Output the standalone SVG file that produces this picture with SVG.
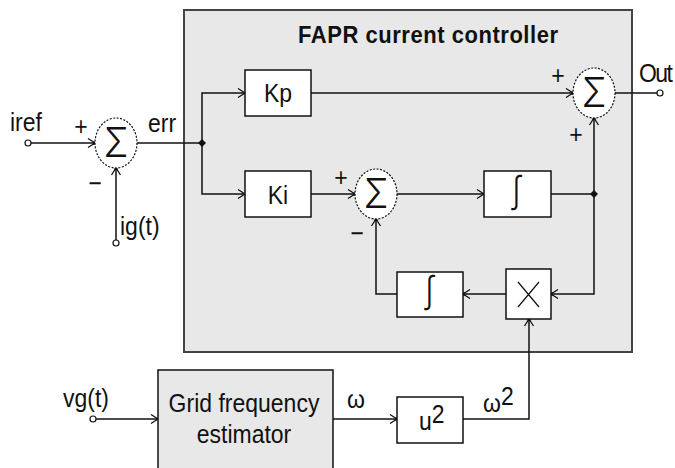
<svg xmlns="http://www.w3.org/2000/svg" width="675" height="468" viewBox="0 0 675 468">
<style>
.lbl{font-family:"Liberation Sans",Arial,sans-serif;font-size:23px;fill:#111}
.mid{text-anchor:middle}
.title{font-family:"Liberation Sans",Arial,sans-serif;font-size:22px;font-weight:bold;fill:#111}
.blk{fill:#fff;stroke:#111;stroke-width:1.5}
.sum{fill:#fff;stroke:#111;stroke-width:1.2;stroke-dasharray:2 1.5}
.wire{fill:none;stroke:#111;stroke-width:1.5}
.sig{font-family:Inter,"Liberation Sans",sans-serif;font-weight:300;font-size:36px;fill:#111;text-anchor:middle}
.int{font-family:Inter,"DejaVu Sans",sans-serif;font-weight:300;font-size:32px;fill:#111;text-anchor:middle}
.term{fill:#fff;stroke:#111;stroke-width:1.2}
</style>
<defs>
<marker id="arr" markerUnits="userSpaceOnUse" markerWidth="12" markerHeight="12" refX="10" refY="6" orient="auto">
<path d="M3,1.5 L10,6 L3,10.5" fill="none" stroke="#111" stroke-width="1.3"/>
</marker>
<marker id="arrd" markerUnits="userSpaceOnUse" markerWidth="12" markerHeight="12" refX="10" refY="6" orient="auto">
<path d="M3,1.5 L10,6 L3,10.5" fill="none" stroke="#111" stroke-width="1.3"/>
<rect x="8" y="4.5" width="3" height="3" fill="#111"/>
</marker>
</defs>
<rect width="675" height="468" fill="#fff"/>
<g id="controller">
<rect x="184" y="10" width="448" height="342" fill="#e8e8e8" stroke="#444" stroke-width="2"/>
<text class="title" transform="translate(298,43) scale(1,1.08)" textLength="260">FAPR current controller</text>
</g>
<g id="connectors">
<path class="wire" d="M31,143 L95,143" marker-end="url(#arrd)"/>
<path class="wire" d="M116,240 L116,168" marker-end="url(#arrd)"/>
<path class="wire" d="M137,143 L202,143"/>
<path class="wire" d="M202,143 L202,93 L245,93" marker-end="url(#arr)"/>
<path class="wire" d="M202,143 L202,194 L245,194" marker-end="url(#arr)"/>
<path class="wire" d="M311,93 L573,93" marker-end="url(#arrd)"/>
<path class="wire" d="M311,194 L355,194" marker-end="url(#arrd)"/>
<path class="wire" d="M397,194 L484,194" marker-end="url(#arr)"/>
<path class="wire" d="M551,194 L594,194"/>
<path class="wire" d="M594,194 L594,118" marker-end="url(#arrd)"/>
<path class="wire" d="M594,194 L594,294 L551,294" marker-end="url(#arrd)"/>
<path class="wire" d="M506,294 L463,294" marker-end="url(#arrd)"/>
<path class="wire" d="M397,294 L376,294 L376,219" marker-end="url(#arrd)"/>
<path class="wire" d="M615,93 L657,93"/>
<path class="wire" d="M96,419 L158,419" marker-end="url(#arr)"/>
<path class="wire" d="M333,419 L397,419" marker-end="url(#arrd)"/>
<path class="wire" d="M463,419 L529,419 L529,319" marker-end="url(#arrd)"/>
<path d="M202,139 L206,143 L202,147 L198,143 Z" fill="#111"/>
<path d="M594,190 L598,194 L594,198 L590,194 Z" fill="#111"/>
<circle class="term" cx="28" cy="143" r="3"/>
<circle class="term" cx="116" cy="243" r="3"/>
<circle class="term" cx="660" cy="93" r="3"/>
<circle class="term" cx="93" cy="419" r="3"/>
</g>
<g id="sum1">
<ellipse class="sum" cx="116" cy="143" rx="21" ry="25"/>
<text class="sig" transform="translate(116,157) scale(1,1.15)">Σ</text>
<text class="lbl mid" transform="translate(81,135) scale(1,1.12)">+</text>
<text class="lbl mid" transform="translate(95,192) scale(1,1.12)">−</text>
</g>
<g id="iref-label"><text class="lbl" transform="translate(10,131) scale(1,1.12)">iref</text></g>
<g id="ig-label"><text class="lbl" transform="translate(120,235) scale(1,1.12)">ig(t)</text></g>
<g id="err-label"><text class="lbl" transform="translate(148,132) scale(1,1.12)">err</text></g>
<g id="Kp">
<rect class="blk" x="245" y="70" width="66" height="46"/>
<text class="lbl mid" transform="translate(278,102) scale(1,1.12)">Kp</text>
</g>
<g id="Ki">
<rect class="blk" x="245" y="171" width="66" height="46"/>
<text class="lbl mid" transform="translate(278,204) scale(1,1.12)">Ki</text>
</g>
<g id="sum2">
<ellipse class="sum" cx="376" cy="194" rx="21" ry="25"/>
<text class="sig" transform="translate(376,208) scale(1,1.15)">Σ</text>
<text class="lbl mid" transform="translate(341,186) scale(1,1.12)">+</text>
<text class="lbl mid" transform="translate(357,242) scale(1,1.12)">−</text>
</g>
<g id="int1">
<rect class="blk" x="484" y="171" width="67" height="46"/>
<text class="int" transform="translate(517,202) scale(1,1.1)">∫</text>
</g>
<g id="sumOut">
<ellipse class="sum" cx="594" cy="93" rx="21" ry="25"/>
<text class="sig" transform="translate(594,107) scale(1,1.15)">Σ</text>
<text class="lbl mid" transform="translate(558,84) scale(1,1.12)">+</text>
<text class="lbl mid" transform="translate(576,143) scale(1,1.12)">+</text>
</g>
<g id="out-label"><text class="lbl" transform="translate(639,82) scale(1,1.12)" textLength="34">Out</text></g>
<g id="mult">
<rect class="blk" x="506" y="269" width="45" height="50"/>
<path d="M518,282 L539,307 M539,282 L518,307" stroke="#111" stroke-width="1.2"/>
</g>
<g id="int2">
<rect class="blk" x="397" y="272" width="66" height="45"/>
<text class="int" transform="translate(430,302) scale(1,1.1)">∫</text>
</g>
<g id="estimator">
<rect x="158" y="370" width="175" height="110" fill="#e8e8e8" stroke="#111" stroke-width="1.5"/>
<text class="lbl mid" transform="translate(244,412) scale(1,1.12)">Grid frequency</text>
<text class="lbl mid" transform="translate(244,443) scale(1,1.12)">estimator</text>
</g>
<g id="vg-label"><text class="lbl" transform="translate(63,407) scale(1,1.12)">vg(t)</text></g>
<g id="omega-label"><text class="lbl" transform="translate(347,408) scale(1,1.12)">ω</text></g>
<g id="square">
<rect class="blk" x="397" y="397" width="66" height="46"/>
<text class="lbl" transform="translate(419,430) scale(1,1.12)">u<tspan dy="-6">2</tspan></text>
</g>
<g id="omega2-label"><text class="lbl" transform="translate(483,412) scale(1,1.12)">ω<tspan dy="-6">2</tspan></text></g>
</svg>
